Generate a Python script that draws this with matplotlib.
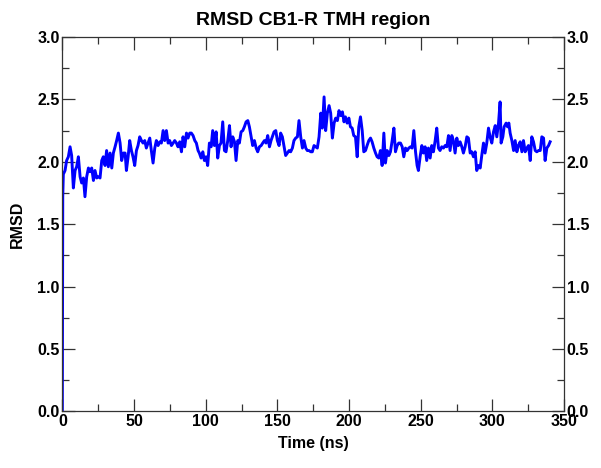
import numpy as np
import matplotlib.pyplot as plt
from matplotlib.ticker import MultipleLocator, FormatStrFormatter

plt.rcParams['font.family'] = ['Liberation Sans', 'DejaVu Sans']
plt.rcParams['font.weight'] = 'bold'

# RMSD trace (time in ns, RMSD)
time = [
    0.0, 0.3, 0.7, 1.9, 3.0, 4.2, 5.4, 6.5, 7.7, 8.9, 10.0, 11.2, 12.4, 13.5,
    14.7, 15.8, 17.0, 18.2, 19.3, 20.5, 21.7, 22.8, 24.0, 25.1, 26.3, 27.5,
    28.6, 29.8, 30.9, 32.1, 33.3, 34.5, 35.6, 36.8, 37.9, 39.1, 40.3, 41.4,
    42.6, 43.8,
    44.7, 45.9, 47.0, 48.2, 49.3, 50.5, 51.7, 52.8, 54.0, 55.2, 56.3, 57.5,
    58.6, 59.8, 61.0, 62.1, 63.3, 64.5, 65.6, 66.8, 68.0, 69.1, 70.3, 71.4,
    72.6, 73.8, 74.9, 76.1, 77.3, 78.4, 79.6, 80.7, 81.9, 83.1, 84.2, 85.4,
    86.6, 87.7, 88.9, 90.0, 91.2, 92.4, 93.5, 94.7,
    95.6, 96.8, 98.0, 99.1, 100.3, 101.4, 102.6, 103.8, 104.9, 106.1, 107.3,
    108.4, 109.6, 110.7, 111.9, 113.1, 114.2, 115.4, 116.6, 117.7, 118.9,
    120.1, 121.2, 122.4, 123.5, 124.7, 125.9, 127.0, 128.2, 129.4, 130.5,
    131.7, 132.8, 134.0, 135.2, 136.3, 137.5, 138.7, 139.8, 141.0, 142.1,
    143.3, 144.5, 145.6,
    146.5, 147.7, 148.9, 150.0, 151.2, 152.3, 153.5, 154.7, 155.8, 157.0,
    158.2, 159.3, 160.5, 161.6, 162.8, 164.0, 165.1, 166.3, 167.5, 168.6,
    169.8, 170.9, 172.1, 173.3, 174.4, 175.6, 176.8, 177.9, 179.1, 180.3,
    181.4, 182.6, 183.7, 184.9, 186.1, 187.2, 188.4, 189.6, 190.7, 191.9,
    193.0, 194.2, 195.4, 196.5,
    197.5, 198.7, 199.9, 201.0, 202.2, 203.3, 204.5, 205.7, 206.8, 208.0,
    209.2, 210.3, 211.5, 212.6, 213.8, 215.0, 216.1, 217.3, 218.5, 219.6,
    220.8, 221.9, 223.1, 224.3, 225.4, 226.6, 227.8, 228.9, 230.1, 231.3,
    232.4, 233.6, 234.7, 235.9, 237.1, 238.2, 239.4, 240.6, 241.7, 242.9,
    244.0, 245.2, 246.4, 247.5,
    248.4, 249.6, 250.8, 251.9, 253.1, 254.2, 255.4, 256.6, 257.7, 258.9,
    260.1, 261.2, 262.4, 263.5, 264.7, 265.9, 267.0, 268.2, 269.4, 270.5,
    271.7, 272.8, 274.0, 275.2, 276.3, 277.5, 278.7, 279.8, 281.0, 282.2,
    283.3, 284.5, 285.6, 286.8, 288.0, 289.1, 290.3, 291.5, 292.6, 293.8,
    294.9, 296.1, 297.3, 298.4,
    299.6, 300.8, 302.0, 303.1, 304.3, 305.4, 306.1, 307.3, 308.2, 309.6,
    310.6, 311.5, 312.4, 313.6, 314.8, 315.9, 317.1, 318.2, 319.4, 320.6,
    321.7, 322.9, 324.1, 325.2, 326.4, 327.5, 328.7, 329.9, 331.0, 332.2,
    333.4, 334.5, 335.7, 336.8, 338.0, 339.2, 340.3,
]
rmsd = [
    0.00, 1.72, 1.90, 1.93, 2.01, 2.04, 2.12, 2.05, 1.79, 1.93, 1.96, 2.04,
    1.88, 1.83, 1.87, 1.72, 1.88, 1.95, 1.92, 1.95, 1.85, 1.93, 1.87, 1.88,
    1.87, 2.01, 2.04, 1.97, 2.09, 1.96, 2.07, 1.95, 2.07, 2.12, 2.17, 2.23,
    2.15, 2.01, 2.07, 2.07,
    1.93, 2.04, 2.17, 2.09, 2.04, 1.97, 2.09, 2.13, 2.20, 2.17, 2.15, 2.17,
    2.11, 2.15, 2.19, 2.09, 1.99, 2.11, 2.17, 2.13, 2.16, 2.15, 2.25, 2.17,
    2.25, 2.15, 2.17, 2.13, 2.15, 2.17, 2.15, 2.12, 2.16, 2.08, 2.20, 2.12,
    2.23, 2.19, 2.23, 2.23, 2.21, 2.17, 2.15, 2.09,
    2.07, 2.03, 2.08, 2.01, 2.04, 1.97, 2.15, 2.12, 2.25, 2.13, 2.24, 2.03,
    2.13, 2.15, 2.32, 2.09, 2.08, 2.17, 2.29, 2.12, 2.20, 2.16, 2.01, 2.17,
    2.15, 2.24, 2.25, 2.28, 2.32, 2.33, 2.28, 2.20, 2.13, 2.17, 2.11, 2.08,
    2.12, 2.13, 2.15, 2.17, 2.15, 2.21, 2.12, 2.17,
    2.20, 2.24, 2.25, 2.17, 2.13, 2.23, 2.20, 2.12, 2.05, 2.07, 2.09, 2.08,
    2.11, 2.17, 2.19, 2.20, 2.33, 2.20, 2.11, 2.17, 2.11, 2.09, 2.09, 2.08,
    2.08, 2.13, 2.12, 2.11, 2.20, 2.39, 2.27, 2.52, 2.25, 2.39, 2.45, 2.39,
    2.19, 2.31, 2.35, 2.33, 2.41, 2.37, 2.40, 2.32,
    2.36, 2.31, 2.35, 2.28, 2.27, 2.21, 2.20, 2.04, 2.28, 2.36, 2.25, 2.08,
    2.09, 2.13, 2.17, 2.19, 2.16, 2.11, 2.07, 2.04, 2.03, 2.09, 1.97, 2.23,
    1.99, 2.09, 2.05, 2.08, 2.17, 2.27, 2.08, 2.13, 2.15, 2.15, 2.12, 2.04,
    2.11, 2.09, 2.11, 2.12, 2.11, 2.25, 2.08, 1.97,
    1.93, 2.04, 2.13, 2.07, 2.12, 2.01, 2.11, 2.03, 2.13, 2.08, 2.17, 2.27,
    2.11, 2.09, 2.12, 2.11, 2.13, 2.12, 2.21, 2.09, 2.21, 2.17, 2.07, 2.19,
    2.13, 2.16, 2.12, 2.07, 2.12, 2.20, 2.19, 2.07, 2.08, 2.04, 2.08, 1.93,
    1.97, 1.95, 2.05, 2.15, 2.07, 2.15, 2.27, 2.20,
    2.15, 2.24, 2.29, 2.20, 2.31, 2.48, 2.15, 2.20, 2.28, 2.31, 2.28, 2.31,
    2.23, 2.17, 2.09, 2.17, 2.08, 2.13, 2.16, 2.08, 2.17, 2.08, 2.11, 2.13,
    2.01, 2.20, 2.16, 2.09, 2.08, 2.09, 2.09, 2.20, 2.19, 2.01, 2.11, 2.13,
    2.16,
]

fig = plt.figure(figsize=(6.01, 4.68), dpi=100)
ax = fig.add_axes([0.1037, 0.1212, 0.8348, 0.7997])

ax.plot(time, rmsd, color='#0000ff', linewidth=2.1)

ax.set_xlim(0, 350)
ax.set_ylim(0, 3)
ax.xaxis.set_major_locator(MultipleLocator(50))
ax.xaxis.set_minor_locator(MultipleLocator(25))
ax.yaxis.set_major_locator(MultipleLocator(0.5))
ax.yaxis.set_minor_locator(MultipleLocator(0.25))
ax.yaxis.set_major_formatter(FormatStrFormatter('%.1f'))

ax.tick_params(which='both', direction='in', top=True, right=True,
               labelright=True, labelsize=11.5, width=0.9, colors='#333333',
               labelcolor='black', pad=2)
ax.tick_params(which='major', length=9)
ax.tick_params(which='minor', length=5)
for s in ax.spines.values():
    s.set_linewidth(0.9)
    s.set_color('#333333')

ax.set_title('RMSD CB1-R TMH region', fontsize=14, fontweight='bold', pad=9)
ax.set_xlabel('Time (ns)', fontsize=11.5, fontweight='bold', labelpad=5)
ax.set_ylabel('RMSD', fontsize=11.5, fontweight='bold', labelpad=9)

fig.savefig('out.png', dpi=100)
